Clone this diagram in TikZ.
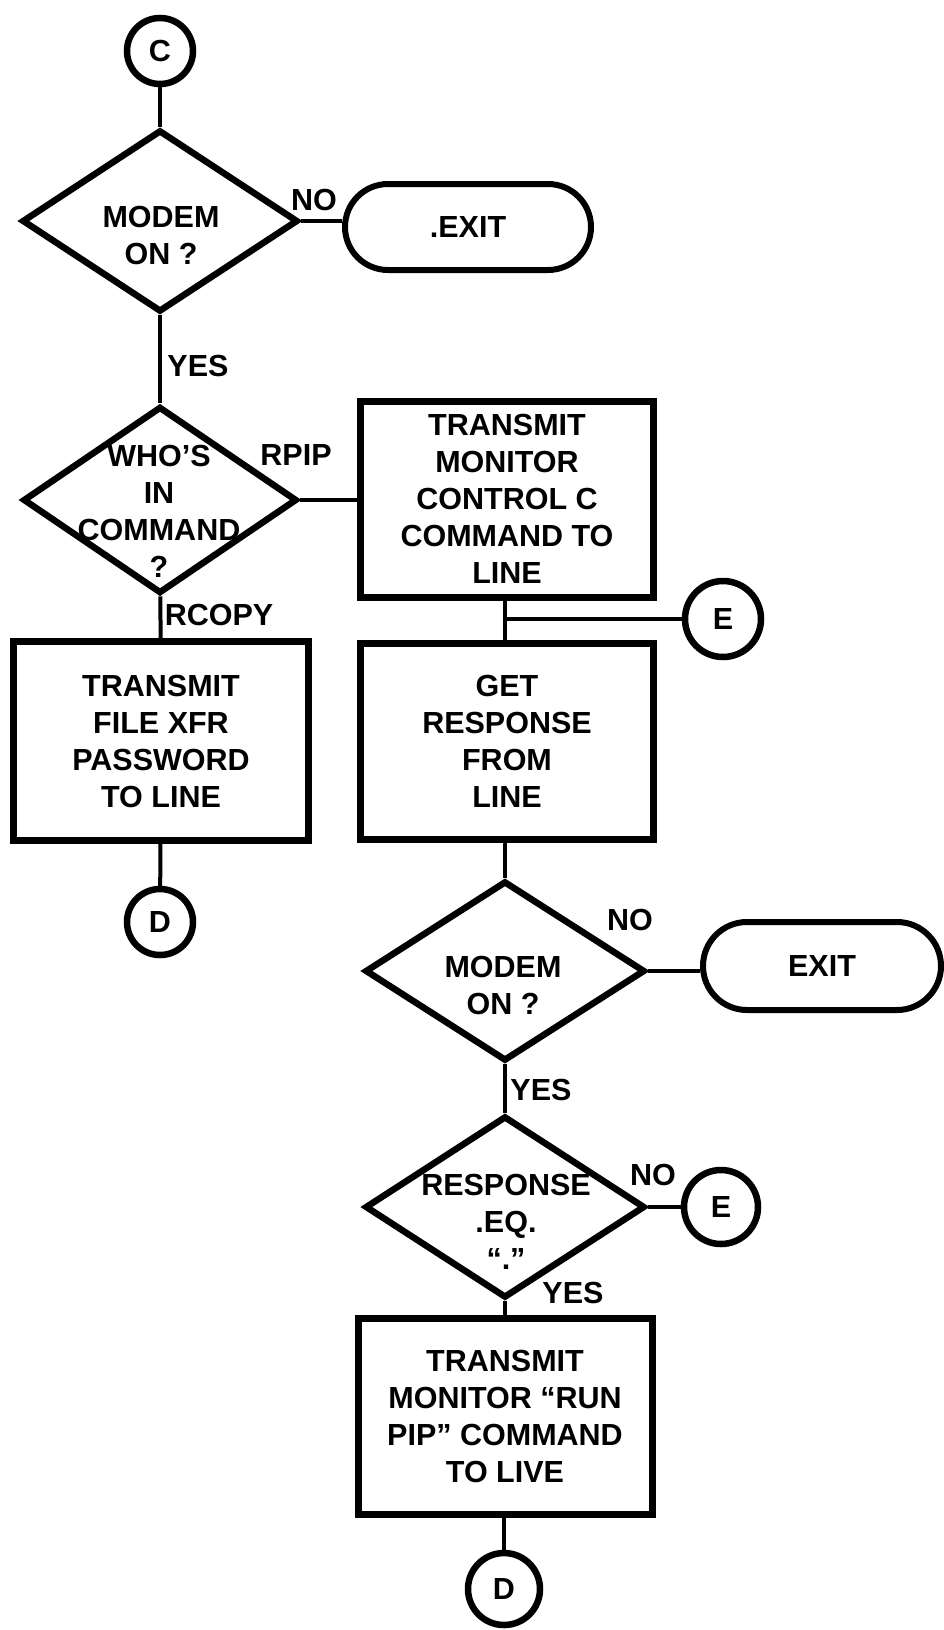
\documentclass[tikz,border=0pt]{standalone}
\usepackage{fontspec}
\setmainfont{Liberation Sans}
\usetikzlibrary{shapes.geometric,shapes.misc}
\begin{document}
\begin{tikzpicture}[x=1pt,y=-1pt,
  every node/.style={font=\bfseries\fontsize{30.5}{37}\selectfont},
  txt/.style={align=center, inner sep=0pt},
  lbl/.style={inner sep=0pt},
  box/.style={draw, rectangle, line width=7pt, minimum width=293pt, minimum height=195pt, inner sep=0pt, align=center},
  dec/.style={draw, diamond, line width=6.5pt, inner sep=0pt},
  term/.style={draw, rounded rectangle, line width=6pt, inner sep=0pt},
  conn/.style={draw, circle, line width=6.5pt, inner sep=0pt},
  link/.style={line width=4pt}
]
\useasboundingbox (0,0) rectangle (944,1630);

% left column
\node[conn, minimum size=66pt] (C) at (160,51) {C};
\node[dec, minimum width=276pt, minimum height=182pt] (d1) at (160,221) {};
\node[txt] (d1t) at (161,235) {MODEM\\ON ?};
\node[term, minimum width=246pt, minimum height=86pt] (ex1) at (468,227) {.EXIT};
\node[dec, minimum width=274pt, minimum height=187pt] (d2) at (160,500) {};
\node[txt] (d2t) at (159,511) {WHO’S\\IN\\COMMAND\\?};
\node[box, minimum width=295pt, minimum height=199pt] (bl) at (161,741) {TRANSMIT\\FILE XFR\\PASSWORD\\TO LINE};
\node[conn, minimum size=66pt] (D1) at (160,922) {D};

% right column
\node[box, minimum height=196pt] (tr1) at (507,499) {TRANSMIT\\MONITOR\\CONTROL C\\COMMAND TO\\LINE};
\node[box, minimum height=196pt] (get) at (507,741) {GET\\RESPONSE\\FROM\\LINE};
\node[conn, minimum size=76pt] (E1) at (723,619) {E};
\coordinate (j) at (505,619);
\node[dec, minimum width=280pt, minimum height=180pt] (d3) at (505,971) {};
\node[txt] (d3t) at (503,985) {MODEM\\ON ?};
\node[term, minimum width=238pt, minimum height=88pt] (ex2) at (822,966) {EXIT};
\node[dec, minimum width=280pt, minimum height=182pt] (d4) at (505,1207) {};
\node[txt] (d4t) at (506,1222) {RESPONSE\\.EQ.\\“.”};
\node[conn, minimum size=74pt] (E2) at (721,1207) {E};
\node[box, minimum width=294pt, minimum height=196pt] (bb) at (505,1416) {TRANSMIT\\MONITOR “RUN\\PIP” COMMAND\\TO LIVE};
\node[conn, minimum size=72pt] (D2) at (504,1589) {D};

% labels
\node[lbl] (no1) at (314,200) {NO};
\node[lbl] (yes1) at (198,366) {YES};
\node[lbl] (rpip) at (296,455) {RPIP};
\node[lbl] (rcopy) at (219,615) {RCOPY};
\node[lbl] (no2) at (630,920) {NO};
\node[lbl] (yes2) at (541,1090) {YES};
\node[lbl] (no3) at (653,1175) {NO};
\node[lbl] (yes3) at (573,1293) {YES};

% connectors
\draw[link] (C) -- (d1);
\draw[link] (d1.east) -- (d1.east -| ex1.west);
\draw[link] (d1) -- (d2);
\draw[link] (d2) -- (d2 -| tr1.west);
\draw[link] (d2) -- (bl);
\draw[link] (bl) -- (D1);
\draw[link] (tr1.south -| j) -- (get.north -| j);
\draw[link] (j) -- (E1);
\draw[link] (get.south -| j) -- (d3);
\draw[link] (d3.east) -- (d3.east -| ex2.west);
\draw[link] (d3) -- (d4);
\draw[link] (d4) -- (E2);
\draw[link] (d4) -- (bb.north -| d4);
\draw[link] (bb.south -| D2) -- (D2);
\end{tikzpicture}
\end{document}
